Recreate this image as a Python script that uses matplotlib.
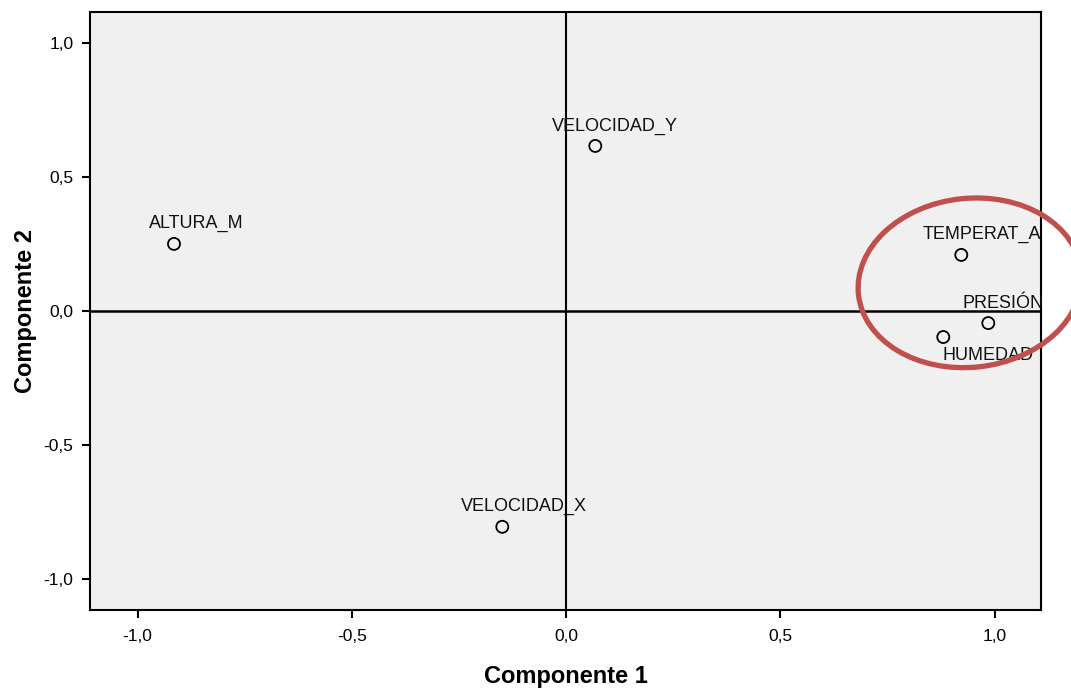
import matplotlib
matplotlib.use("Agg")
import matplotlib.pyplot as plt
from matplotlib.patches import Ellipse
from matplotlib.transforms import ScaledTranslation
from matplotlib.ticker import FuncFormatter

plt.rcParams['font.family'] = ['Liberation Sans', 'DejaVu Sans']

# Component loadings (rotated space)
variables = ["ALTURA_M", "VELOCIDAD_Y", "VELOCIDAD_X", "TEMPERAT_A", "PRESIÓN", "HUMEDAD"]
comp1 = [-0.915, 0.068, -0.149, 0.922, 0.985, 0.880]
comp2 = [0.250, 0.615, -0.804, 0.209, -0.045, -0.097]
ticks = [-1.0, -0.5, 0.0, 0.5, 1.0]

# label offsets in pixels (dx, dy) relative to each point
label_offsets = {
    "ALTURA_M": (22, 20),
    "VELOCIDAD_Y": (20, 20),
    "VELOCIDAD_X": (22, 20),
    "TEMPERAT_A": (21, 20),
    "PRESIÓN": (15, 20),
    "HUMEDAD": (45, -18),
}

fig = plt.figure(figsize=(10.71, 6.88), dpi=100)
ax = fig.add_axes([90 / 1071, 78 / 688, 951 / 1071, 598 / 688])
ax.set_facecolor("#f0f0f0")
ax.set_xlim(-1.111, 1.108)
ax.set_ylim(-1.114, 1.114)

ax.axhline(0, color="black", lw=1.8, zorder=1)
ax.axvline(0, color="black", lw=1.5, zorder=1)

ax.scatter(comp1, comp2, s=75, facecolors="none", edgecolors="black", linewidths=1.3, zorder=3)

for name, x, y in zip(variables, comp1, comp2):
    dx, dy = label_offsets[name]
    ax.annotate(name, (x, y), xytext=(dx, dy), textcoords="offset pixels",
                ha="center", va="center", fontsize=13, color="#111111", zorder=4)

fmt = FuncFormatter(lambda v, p: f"{v:.1f}".replace(".", ",").replace("−", "-"))
ax.set_xticks(ticks)
ax.set_yticks(ticks)
ax.xaxis.set_major_formatter(fmt)
ax.yaxis.set_major_formatter(fmt)
ax.tick_params(direction="out", length=6, width=1.5, labelsize=12.5, pad=6, colors="black")
ax.tick_params(axis="x", pad=8)
for s in ax.spines.values():
    s.set_linewidth(1.5)

ax.set_xlabel("Componente 1", fontsize=17, fontweight="bold", labelpad=15)
ax.set_ylabel("Componente 2", fontsize=17, fontweight="bold", labelpad=5)

# highlight ring around the cluster of variables
ring_center = (0.942, 0.105)
ring = Ellipse((0, 0), 2.24, 1.69, angle=6, fill=False, edgecolor="#c0504d", lw=3.8,
               transform=fig.dpi_scale_trans + ScaledTranslation(*ring_center, ax.transData),
               clip_on=False, zorder=5)
ax.add_artist(ring)

fig.savefig("out.png", dpi=100)
